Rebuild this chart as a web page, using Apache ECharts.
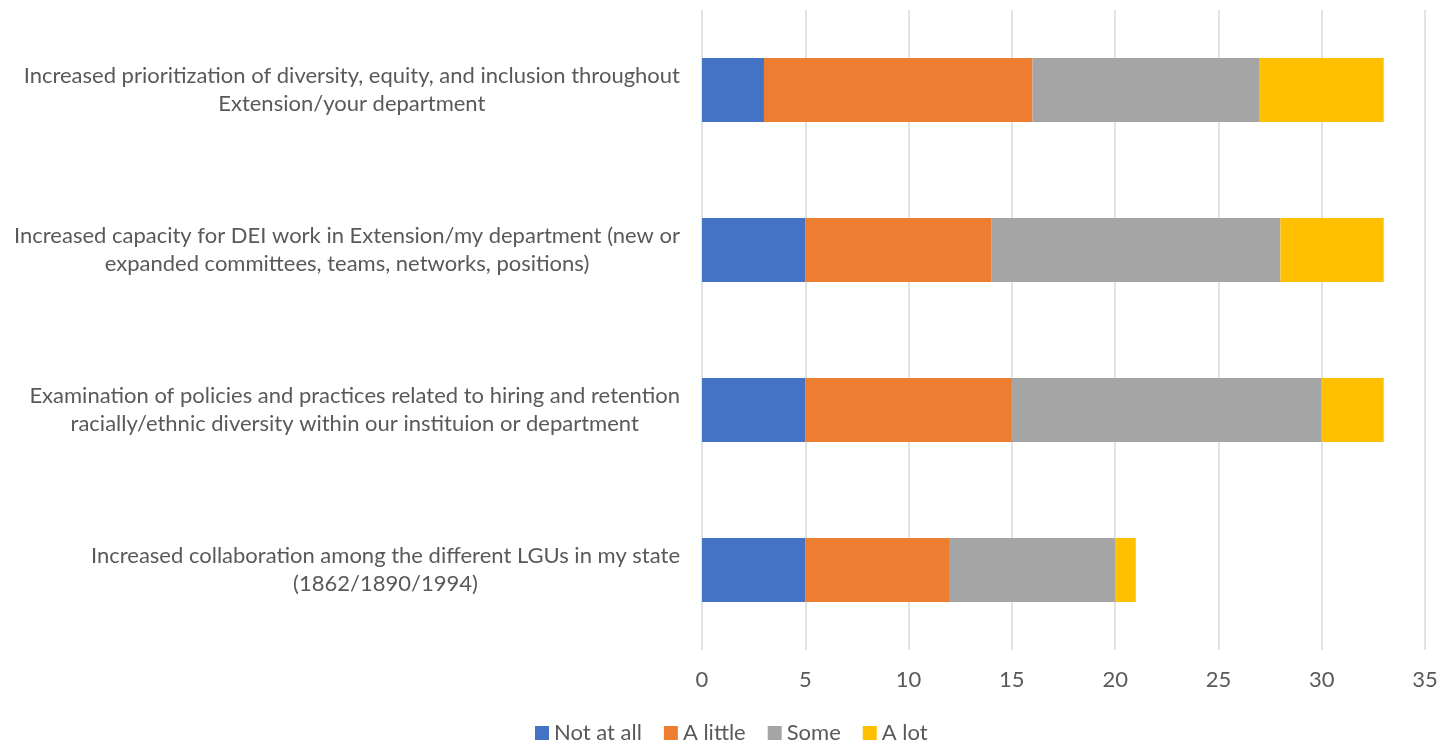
<!DOCTYPE html>
<html>
<head>
<meta charset="utf-8">
<script src="https://cdn.jsdelivr.net/npm/echarts@6/dist/echarts.min.js"></script>
<style>html,body{margin:0;padding:0;background:#fff;}#c{width:1452px;height:744px;}</style>
</head>
<body>
<div id="c"></div>
<script>
const categories = [
  "Increased prioritization of diversity, equity, and inclusion throughout\nExtension/your department",
  "Increased capacity for DEI work in Extension/my department (new or\nexpanded committees, teams, networks, positions)",
  "Examination of policies and practices related to hiring and retention\nracially/ethnic diversity within our instituion or department",
  "Increased collaboration among the different LGUs in my state\n(1862/1890/1994)"
];
const seriesNames = ["Not at all", "A little", "Some", "A lot"];
const notAtAll = [3, 5, 5, 5];
const aLittle = [13, 9, 10, 7];
const some = [11, 14, 15, 8];
const aLot = [6, 5, 3, 1];
const xTicks = [0, 5, 10, 15, 20, 25, 30, 35];
const colors = ["#4472C4", "#ED7D31", "#A5A5A5", "#FFC000"];

const FONT = "Lato";
const FS = 22;
const values = [notAtAll, aLittle, some, aLot];
const chart = echarts.init(document.getElementById('c'));
chart.setOption({
  animation: false,
  textStyle: { fontFamily: FONT },
  grid: { left: 702, right: 27, top: 10, bottom: 94, containLabel: false },
  legend: {
    top: 722, left: 535,
    padding: 0,
    itemWidth: 14, itemHeight: 14, itemGap: 22,
    icon: 'rect',
    textStyle: { fontFamily: FONT, fontSize: FS, color: '#595959' },
    data: seriesNames
  },
  xAxis: {
    type: 'value', min: xTicks[0], max: xTicks[xTicks.length - 1], interval: 5,
    axisLine: { show: false }, axisTick: { show: false },
    splitLine: { show: true, lineStyle: { color: '#D9D9D9', width: 1.5 } },
    axisLabel: { fontFamily: FONT, fontSize: FS, color: '#595959', margin: 19 }
  },
  yAxis: {
    type: 'category', inverse: true, data: categories,
    axisLine: { show: false }, axisTick: { show: false },
    axisLabel: {
      fontFamily: FONT, fontSize: FS, color: '#595959', margin: 22, lineHeight: 28,
      align: 'right',
      formatter: function (v) { return v.split('\n').map(s => '{c|' + s + '}').join('\n'); },
      rich: { c: { align: 'center', fontFamily: FONT, fontSize: FS, color: '#595959', lineHeight: 28 } }
    }
  },
  series: seriesNames.map((n, i) => ({
    name: n, type: 'bar', stack: 'total', barWidth: '40%',
    itemStyle: { color: colors[i] },
    data: values[i]
  }))
});
</script>
</body>
</html>
